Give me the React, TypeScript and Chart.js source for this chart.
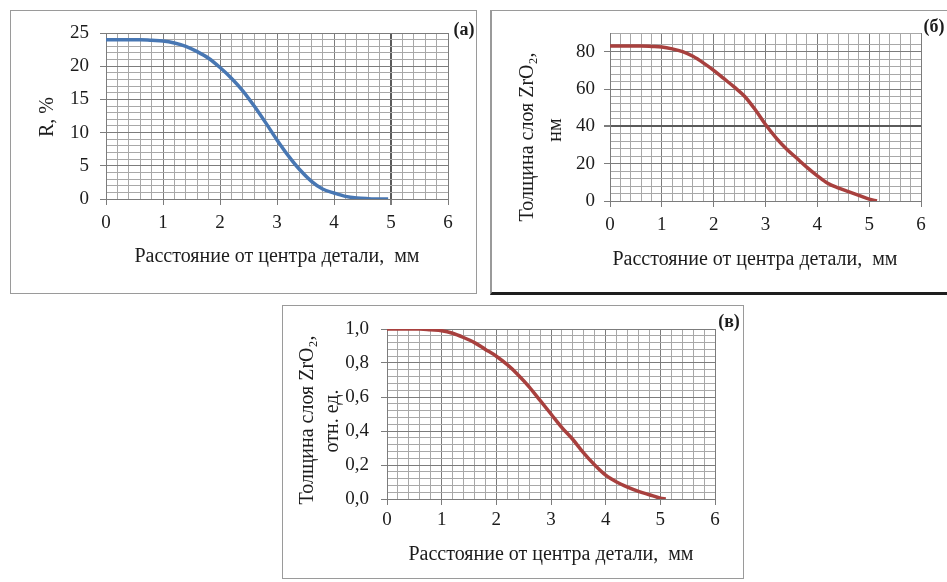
import React, { useEffect, useRef } from 'react';
import { Chart, registerables } from 'chart.js';

Chart.register(...registerables);

// ---------- data ----------
const distanceA = [0, 0.2, 0.4, 0.6, 0.8, 1.0, 1.2, 1.4, 1.6, 1.8, 2.0, 2.2, 2.4, 2.6, 2.8, 3.0, 3.2, 3.4, 3.6, 3.8, 4.0, 4.2, 4.4, 4.6, 4.8, 4.95];
const reflectanceA = [24.0, 24.0, 24.0, 24.0, 23.9, 23.8, 23.5, 23.0, 22.2, 21.2, 19.8, 18.2, 16.3, 14.0, 11.5, 8.9, 6.5, 4.4, 2.7, 1.5, 0.9, 0.4, 0.15, 0.05, 0.0, 0.0];

const distanceB = [0, 0.2, 0.4, 0.6, 0.8, 1.0, 1.2, 1.4, 1.6, 1.8, 2.0, 2.2, 2.4, 2.6, 2.8, 3.0, 3.2, 3.4, 3.6, 3.8, 4.0, 4.2, 4.4, 4.6, 4.8, 5.0, 5.15];
const thicknessB = [83, 83, 83, 83, 82.8, 82.5, 81.5, 80, 77.5, 74, 70, 65.5, 61, 56, 49, 41, 34, 28, 23, 18, 13.5, 9.5, 7, 5, 3, 1, 0];

const distanceC = [0, 0.2, 0.4, 0.6, 0.8, 1.0, 1.2, 1.4, 1.6, 1.8, 2.0, 2.2, 2.4, 2.6, 2.8, 3.0, 3.2, 3.4, 3.6, 3.8, 4.0, 4.2, 4.4, 4.6, 4.8, 5.0, 5.1];
const relThicknessC = [1.0, 1.0, 1.0, 1.0, 0.995, 0.99, 0.975, 0.95, 0.92, 0.88, 0.84, 0.79, 0.73, 0.66, 0.58, 0.5, 0.42, 0.35, 0.27, 0.2, 0.14, 0.1, 0.07, 0.045, 0.025, 0.005, 0.0];

const xTickLabels = ['0', '1', '2', '3', '4', '5', '6'];
const yTickLabelsA = ['0', '5', '10', '15', '20', '25'];
const yTickLabelsB = ['0', '20', '40', '60', '80'];
const yTickLabelsC = ['0,0', '0,2', '0,4', '0,6', '0,8', '1,0'];

const xTitle = 'Расстояние от центра детали,  мм';
const yTitleA = ['R, %'];
const yTitleB = ['Толщина слоя ZrO₂,', 'нм'];
const yTitleC = ['Толщина слоя ZrO₂,', 'отн. ед.'];

// ---------- styling ----------
const SERIF = "'Liberation Serif', 'Times New Roman', 'DejaVu Serif', serif";
const TEXT = '#1c1c1c';
const GRID_MINOR = '#a8a8a8';
const GRID_MAJOR = '#7c7c7c';
const GRID_DARK = '#5a5a5a';

const near = (v: number, step: number) => Math.abs(v / step - Math.round(v / step)) < 1e-6;
const same = (a: number, b: number | null) => b !== null && Math.abs(a - b) < 1e-6;

const textPlugin = {
  id: 'panelText',
  afterDraw(chart: any, _args: any, opts: any) {
    const ctx = chart.ctx;
    for (const t of opts.items || []) {
      ctx.save();
      ctx.font = t.font;
      ctx.fillStyle = TEXT;
      ctx.textAlign = 'center';
      ctx.textBaseline = 'middle';
      ctx.translate(t.x, t.y);
      if (t.rotate) ctx.rotate(-Math.PI / 2);
      ctx.fillText(t.text, 0, 0);
      ctx.restore();
    }
  },
};

type Spec = {
  box: { x: number; y: number; w: number; h: number };
  xs: number[];
  ys: number[];
  color: string;
  yMax: number;
  yStep: number;
  yMajor: number;
  yLabels: string[];
  yDark: number | null;
  xDark: number | null;
  padTop: number;
  padRight: number;
  yW: number;
  xH: number;
  yPad: number;
  xPad: number;
  texts: any[];
};

function makeConfig(p: Spec): any {
  const tickFont = { family: SERIF, size: 19 };
  return {
    type: 'line',
    data: {
      datasets: [
        {
          data: p.xs.map((x, i) => ({ x, y: p.ys[i] })),
          borderColor: p.color,
          borderWidth: 3.5,
          pointRadius: 0,
          cubicInterpolationMode: 'monotone',
          fill: false,
        },
      ],
    },
    options: {
      responsive: false,
      maintainAspectRatio: false,
      animation: false,
      events: [],
      layout: { padding: { top: p.padTop, right: p.padRight, left: 0, bottom: 0 } },
      scales: {
        x: {
          type: 'linear',
          min: 0,
          max: 6,
          afterFit: (s: any) => {
            s.height = p.xH;
          },
          ticks: {
            stepSize: 0.2,
            autoSkip: false,
            maxRotation: 0,
            minRotation: 0,
            padding: p.xPad,
            color: TEXT,
            font: tickFont,
            callback: (v: number) => (near(v, 1) ? xTickLabels[Math.round(v)] : ''),
          },
          grid: {
            tickLength: 6,
            color: (c: any) =>
              same(c.tick.value, p.xDark) ? GRID_DARK : near(c.tick.value, 1) ? GRID_MAJOR : GRID_MINOR,
            lineWidth: (c: any) => (same(c.tick.value, p.xDark) ? 2 : 1),
            tickColor: (c: any) => (near(c.tick.value, 1) ? GRID_MAJOR : 'rgba(0,0,0,0)'),
          },
          border: { display: true, color: GRID_MAJOR, width: 1 },
        },
        y: {
          type: 'linear',
          min: 0,
          max: p.yMax,
          afterFit: (s: any) => {
            s.width = p.yW;
          },
          ticks: {
            stepSize: p.yStep,
            autoSkip: false,
            padding: p.yPad,
            color: TEXT,
            font: tickFont,
            callback: (v: number) => (near(v, p.yMajor) ? p.yLabels[Math.round(v / p.yMajor)] ?? '' : ''),
          },
          grid: {
            tickLength: 6,
            color: (c: any) =>
              same(c.tick.value, p.yDark) ? GRID_DARK : near(c.tick.value, p.yMajor) ? GRID_MAJOR : GRID_MINOR,
            lineWidth: (c: any) => (same(c.tick.value, p.yDark) ? 2 : 1),
            tickColor: (c: any) => (near(c.tick.value, p.yMajor) ? GRID_MAJOR : 'rgba(0,0,0,0)'),
          },
          border: { display: true, color: GRID_MAJOR, width: 1 },
        },
      },
      plugins: {
        legend: { display: false },
        tooltip: { enabled: false },
        panelText: { items: p.texts },
      },
    },
    plugins: [textPlugin],
  };
}

const titleFont = `20px ${SERIF}`;
const tagFont = `bold 18px ${SERIF}`;

const specA: Spec = {
  box: { x: 10, y: 10, w: 467, h: 284 },
  xs: distanceA,
  ys: reflectanceA,
  color: '#4877b3',
  yMax: 25,
  yStep: 1,
  yMajor: 5,
  yLabels: yTickLabelsA,
  yDark: null,
  xDark: 5,
  padTop: 23,
  padRight: 29,
  yW: 96,
  xH: 95,
  yPad: 11,
  xPad: 7,
  texts: [
    { text: xTitle, x: 267, y: 247, font: titleFont },
    { text: yTitleA[0], x: 38, y: 107, font: titleFont, rotate: true },
    { text: '(а)', x: 454, y: 20, font: tagFont },
  ],
};

const specB: Spec = {
  box: { x: 490, y: 10, w: 457, h: 284 },
  xs: distanceB,
  ys: thicknessB,
  color: '#a8403e',
  yMax: 90,
  yStep: 4,
  yMajor: 20,
  yLabels: yTickLabelsB,
  yDark: 40,
  xDark: null,
  padTop: 23,
  padRight: 26,
  yW: 120,
  xH: 93,
  yPad: 9,
  xPad: 7,
  texts: [
    { text: xTitle, x: 265, y: 250, font: titleFont },
    { text: yTitleB[0], x: 38, y: 127, font: titleFont, rotate: true },
    { text: yTitleB[1], x: 66, y: 120, font: titleFont, rotate: true },
    { text: '(б)', x: 444, y: 17, font: tagFont },
  ],
};

const specC: Spec = {
  box: { x: 282, y: 305, w: 462, h: 274 },
  xs: distanceC,
  ys: relThicknessC,
  color: '#a8403e',
  yMax: 1,
  yStep: 0.04,
  yMajor: 0.2,
  yLabels: yTickLabelsC,
  yDark: null,
  xDark: null,
  padTop: 24,
  padRight: 29,
  yW: 105,
  xH: 80,
  yPad: 12,
  xPad: 4,
  texts: [
    { text: xTitle, x: 269, y: 250, font: titleFont },
    { text: yTitleC[0], x: 26, y: 115, font: titleFont, rotate: true },
    { text: yTitleC[1], x: 51, y: 116, font: titleFont, rotate: true },
    { text: '(в)', x: 447, y: 17, font: tagFont },
  ],
};

function Panel({ spec }: { spec: Spec }) {
  const ref = useRef<HTMLCanvasElement | null>(null);
  useEffect(() => {
    if (!ref.current) return;
    const chart = new Chart(ref.current, makeConfig(spec));
    return () => chart.destroy();
  }, [spec]);
  const { x, y, w, h } = spec.box;
  return (
    <canvas
      ref={ref}
      width={w}
      height={h}
      style={{ position: 'absolute', left: x, top: y, width: w, height: h, display: 'block' }}
    />
  );
}

export default function App() {
  return (
    <div
      style={{
        position: 'absolute',
        left: 0,
        top: 0,
        width: 947,
        height: 582,
        background: '#ffffff',
        overflow: 'hidden',
      }}
    >
      <Panel spec={specA} />
      <Panel spec={specB} />
      <Panel spec={specC} />
      {/* panel frames */}
      <div style={{ position: 'absolute', left: 10, top: 10, width: 467, height: 284, boxSizing: 'border-box', border: '1px solid #9a9a9a', pointerEvents: 'none' }} />
      <div style={{ position: 'absolute', left: 490, top: 10, width: 470, height: 285, boxSizing: 'border-box', borderTop: '1px solid #9a9a9a', borderLeft: '2px solid #9a9a9a', borderBottom: '3px solid #1e1e1e', pointerEvents: 'none' }} />
      <div style={{ position: 'absolute', left: 282, top: 305, width: 462, height: 274, boxSizing: 'border-box', border: '1px solid #9a9a9a', pointerEvents: 'none' }} />
    </div>
  );
}
